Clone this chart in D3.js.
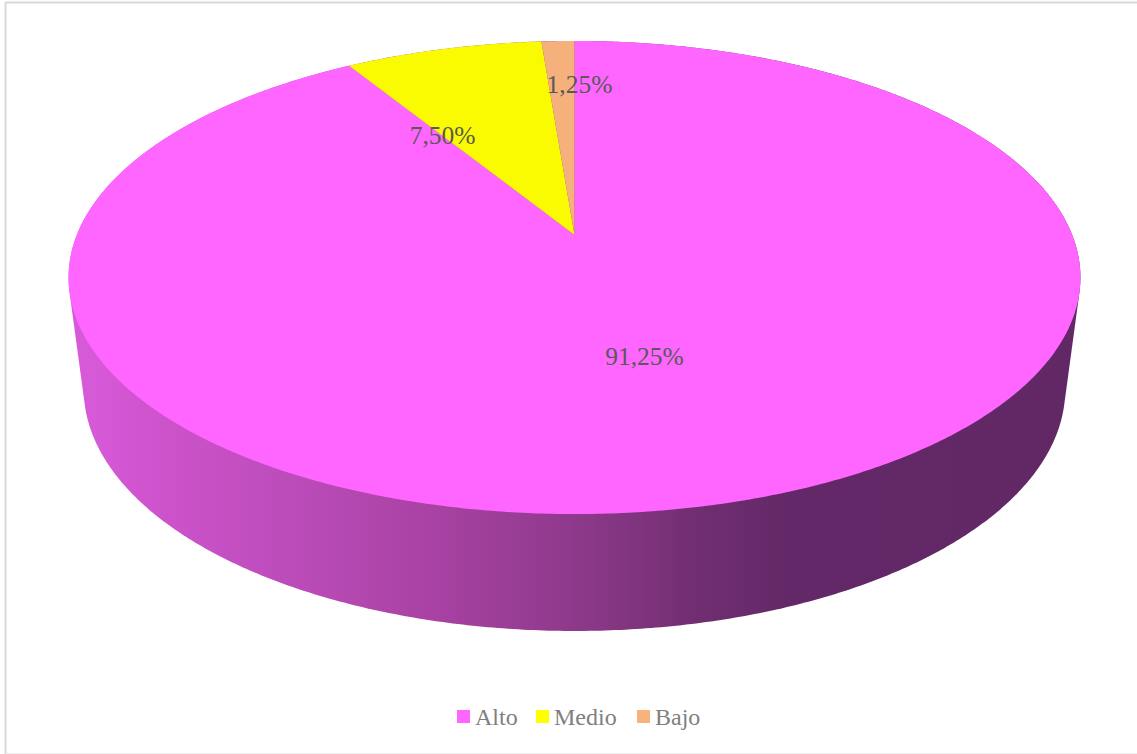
<!DOCTYPE html>
<html lang="es">
<head>
<meta charset="utf-8">
<title>Nivel</title>
<script src="https://cdn.jsdelivr.net/npm/d3@7/dist/d3.min.js"></script>
<style>
  html, body { margin: 0; padding: 0; background: #fff; overflow: hidden; }
  svg { display: block; }
  text { font-family: "Liberation Serif", serif; }
</style>
</head>
<body>
<svg id="chart" width="1137" height="754"></svg>
<script>
// Chart values
const categories = ["Alto", "Medio", "Bajo"];
const percentages = [91.25, 7.5, 1.25];
const sliceColors = ["#ff66ff", "#fafa00", "#f6b07c"];
const legendColors = ["#ff66ff", "#ffff00", "#f9b27c"];

// Perspective disc: a unit circle tilted away from the viewer
const apex = { x: 574.5, y: 235 };
const tilt = 0.1797;
const radiusX = 497.7;
const radiusY = 228.9;

// The lower rim of the wall is the same disc, slightly narrower and dropped
const wallScaleX = 0.97;
const wallScaleY = 1.023;
const wallDrop = 110.5;

function project(angle, radial = 1, scaleX = 1, scaleY = 1, drop = 0) {
  const u = Math.sin(angle) * radial;
  const v = -Math.cos(angle) * radial;
  const w = 1 - tilt * v;
  return [apex.x + scaleX * radiusX * u / w, apex.y + drop + scaleY * radiusY * v / w];
}

const svg = d3.select("#chart");
const width = +svg.attr("width");
const height = +svg.attr("height");

svg.append("rect").attr("width", width).attr("height", height).attr("fill", "#fff");

// Chart frame
const frame = svg.append("g").attr("fill", "none");
frame.append("line").attr("x1", 5.5).attr("x2", 5.5).attr("y1", 2).attr("y2", height).attr("stroke", "#d9d9d9").attr("stroke-width", 2);
frame.append("line").attr("x1", 5).attr("x2", width).attr("y1", 2.5).attr("y2", 2.5).attr("stroke", "#d9d9d9").attr("stroke-width", 2);
frame.append("line").attr("x1", 6).attr("x2", width).attr("y1", 753.5).attr("y2", 753.5).attr("stroke", "#f0f0f0").attr("stroke-width", 1);

// Side wall shading runs left to right
const defs = svg.append("defs");
const shade = defs.append("linearGradient")
  .attr("id", "wallShade")
  .attr("gradientUnits", "userSpaceOnUse")
  .attr("x1", 70).attr("x2", 1080).attr("y1", 0).attr("y2", 0);
[[0.03, "#d65ad8"], [0.07, "#d054ce"], [0.218, "#bc4cba"], [0.356, "#a942a4"],
 [0.495, "#8f3a8c"], [0.624, "#702e70"], [0.713, "#632867"], [1, "#622866"]].forEach(([o, c]) => {
  shade.append("stop").attr("offset", o).attr("stop-color", c);
});

const ringAngles = d3.range(0, 720).map(i => i / 720 * 2 * Math.PI);
const wallPoints = d3.polygonHull(
  ringAngles.flatMap(a => [project(a), project(a, 1, wallScaleX, wallScaleY, wallDrop)])
);
svg.append("path")
  .attr("d", d3.line()(wallPoints) + "Z")
  .attr("fill", "url(#wallShade)");

// Top face
const pie = d3.pie().sort(null).value(d => d);
const arcs = pie(percentages);
const slicePath = d => {
  const steps = Math.max(4, Math.ceil((d.endAngle - d.startAngle) * 120));
  const rim = d3.range(steps + 1).map(i =>
    project(d.startAngle + (d.endAngle - d.startAngle) * i / steps));
  return d3.line()([[apex.x, apex.y], ...rim]) + "Z";
};
svg.append("g").selectAll("path")
  .data(arcs)
  .join("path")
  .attr("d", slicePath)
  .attr("fill", (d, i) => sliceColors[i]);

// Value labels, placed at half radius and then nudged clear of the narrow wedges
const labelNudge = [[-4, 0.5], [-61, 0.3], [14, -46]];
const formatValue = v => v.toFixed(2).replace(".", ",") + "%";
svg.append("g").selectAll("text")
  .data(arcs)
  .join("text")
  .attr("transform", (d, i) => {
    const [x, y] = project((d.startAngle + d.endAngle) / 2, 0.5);
    return `translate(${x + labelNudge[i][0]},${y + labelNudge[i][1] + 8.5})`;
  })
  .attr("text-anchor", "middle")
  .attr("font-size", 25.5)
  .attr("fill", "#595959")
  .text(d => formatValue(d.value));

// Legend
const swatchX = d3.scaleOrdinal().domain(categories).range([457, 536, 637]);
const legend = svg.append("g").selectAll("g")
  .data(categories)
  .join("g")
  .attr("transform", d => `translate(${swatchX(d)},710)`);
legend.append("rect")
  .attr("width", 13).attr("height", 13)
  .attr("fill", (d, i) => legendColors[i]);
legend.append("text")
  .attr("x", 18).attr("y", 15)
  .attr("font-size", 24)
  .attr("fill", "#7f7f7f")
  .text(d => d);
</script>
</body>
</html>
